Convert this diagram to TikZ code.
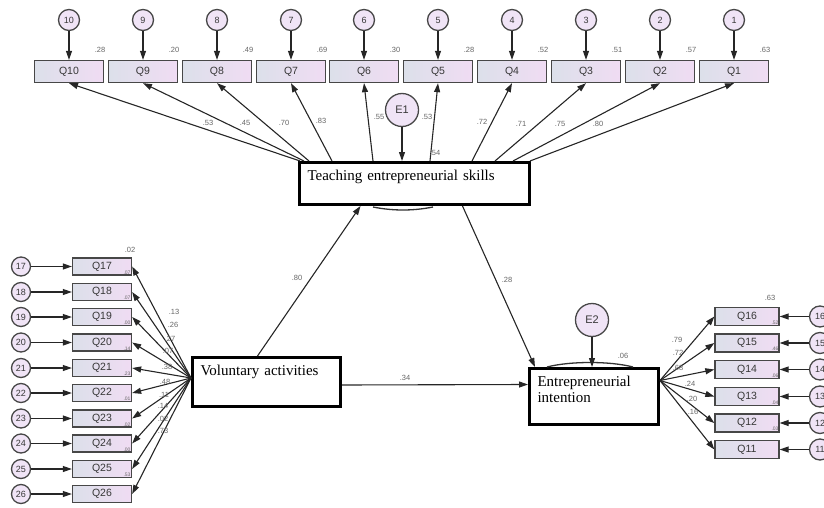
\documentclass[tikz,border=0pt]{standalone}
\usepackage{fontspec}
\setmainfont{Liberation Serif}
\setsansfont{Liberation Sans}
\usepackage{tikz}
\usetikzlibrary{arrows.meta}
\definecolor{qleft}{HTML}{DCE0EA}
\definecolor{qright}{HTML}{F0DCF3}
\definecolor{cfill}{HTML}{F0E4F6}
\tikzset{qbox/.style={draw=black!72, line width=1.3pt, left color=qleft, right color=qright,
  minimum width=69pt, minimum height=22pt, inner sep=0pt,
  font=\sffamily\fontsize{10.5}{11}\selectfont, text=black!78},
 sbox/.style={qbox, minimum width=59pt, minimum height=17pt},
 rbox/.style={qbox, minimum width=64pt, minimum height=18pt},
 errc/.style={circle, draw=black!72, line width=1.3pt, fill=cfill, minimum size=21pt,
  inner sep=0pt, font=\sffamily\fontsize{9}{9}\selectfont, text=black!78},
 serrc/.style={errc, minimum size=19pt},
 bigerr/.style={errc, minimum size=33pt, font=\sffamily\fontsize{11}{11}\selectfont},
 latent/.style={draw=black, line width=3pt, fill=white, anchor=north west, align=left,
  inner xsep=8pt, inner ysep=6pt, text height=12pt, font=\fontsize{15}{16}\selectfont},
 est/.style={font=\sffamily\fontsize{7.5}{7.5}\selectfont, text=black!60, inner sep=0pt},
 tinyest/.style={font=\sffamily\fontsize{5}{5}\selectfont, text=black!60, inner sep=0pt},
 link/.style={draw=black!85, line width=1.1pt, -{Triangle[length=9pt,width=6pt]}},
}
\begin{document}
\begin{tikzpicture}[x=1pt,y=-1pt]
        \useasboundingbox (0,0) rectangle (824,508);
        \node[latent, text width=214pt, text depth=18pt] (tes) at (298,161) {Teaching entrepreneurial skills};
        \node[latent, text width=132pt, text depth=25pt] (va) at (191,356) {Voluntary activities};
        \node[latent, text width=113pt, text depth=32pt] (ei) at (528,367) {Entrepreneurial\\intention};
        \draw[black!80, line width=1.3pt] (373,207) .. controls (393,211) and (413,211) .. (433,207);
        \draw[black!80, line width=1.3pt] (547,367) .. controls (570,361) and (610,361) .. (633,367);
        \node[qbox] (q10) at (69,71.5) {Q10};
        \node[qbox] (q9) at (143,71.5) {Q9};
        \node[qbox] (q8) at (217,71.5) {Q8};
        \node[qbox] (q7) at (291,71.5) {Q7};
        \node[qbox] (q6) at (364,71.5) {Q6};
        \node[qbox] (q5) at (438,71.5) {Q5};
        \node[qbox] (q4) at (512,71.5) {Q4};
        \node[qbox] (q3) at (586,71.5) {Q3};
        \node[qbox] (q2) at (660,71.5) {Q2};
        \node[qbox] (q1) at (734,71.5) {Q1};
        \node[errc] (c10) at (69,20) {10};
        \node[errc] (c9) at (143,20) {9};
        \node[errc] (c8) at (217,20) {8};
        \node[errc] (c7) at (291,20) {7};
        \node[errc] (c6) at (364,20) {6};
        \node[errc] (c5) at (438,20) {5};
        \node[errc] (c4) at (512,20) {4};
        \node[errc] (c3) at (586,20) {3};
        \node[errc] (c2) at (660,20) {2};
        \node[errc] (c1) at (734,20) {1};
        \node[est] (r10) at (100,50) {.28};
        \node[est] (r9) at (174,50) {.20};
        \node[est] (r8) at (248,50) {.49};
        \node[est] (r7) at (322,50) {.69};
        \node[est] (r6) at (395,50) {.30};
        \node[est] (r5) at (469,50) {.28};
        \node[est] (r4) at (543,50) {.52};
        \node[est] (r3) at (617,50) {.51};
        \node[est] (r2) at (691,50) {.57};
        \node[est] (r1) at (765,50) {.63};
        \node[bigerr] (E1) at (402,110) {E1};
        \node[bigerr] (E2) at (592,320) {E2};
        \node[sbox] (q17) at (102,266.5) {Q17};
        \node[sbox] (q18) at (102,292) {Q18};
        \node[sbox] (q19) at (102,317) {Q19};
        \node[sbox] (q20) at (102,342.5) {Q20};
        \node[sbox] (q21) at (102,368) {Q21};
        \node[sbox] (q22) at (102,393) {Q22};
        \node[sbox] (q23) at (102,418.5) {Q23};
        \node[sbox] (q24) at (102,443.5) {Q24};
        \node[sbox] (q25) at (102,469) {Q25};
        \node[sbox] (q26) at (102,494) {Q26};
        \node[serrc] (c17) at (21,266.5) {17};
        \node[serrc] (c18) at (21,292) {18};
        \node[serrc] (c19) at (21,317) {19};
        \node[serrc] (c20) at (21,342.5) {20};
        \node[serrc] (c21) at (21,368) {21};
        \node[serrc] (c22) at (21,393) {22};
        \node[serrc] (c23) at (21,418.5) {23};
        \node[serrc] (c24) at (21,443.5) {24};
        \node[serrc] (c25) at (21,469) {25};
        \node[serrc] (c26) at (21,494) {26};
        \node[est] (r17) at (130,250) {.02};
        \node[tinyest] (s18) at (127,272.5) {.07};
        \node[tinyest] (s19) at (127,298) {.07};
        \node[tinyest] (s20) at (127,323) {.00};
        \node[tinyest] (s21) at (127,348.5) {.14};
        \node[tinyest] (s22) at (127,374) {.23};
        \node[tinyest] (s23) at (127,399) {.01};
        \node[tinyest] (s24) at (127,424.5) {.02};
        \node[tinyest] (s25) at (127,449.5) {.00};
        \node[tinyest] (s26) at (127,475) {.53};
        \node[rbox] (q16) at (747,316.5) {Q16};
        \node[rbox] (q15) at (747,343) {Q15};
        \node[rbox] (q14) at (747,369.5) {Q14};
        \node[rbox] (q13) at (747,396.5) {Q13};
        \node[rbox] (q12) at (747,423) {Q12};
        \node[rbox] (q11) at (747,449.5) {Q11};
        \node[errc] (c16) at (820,316.5) {16};
        \node[errc] (c15) at (820,343) {15};
        \node[errc] (c14) at (820,369.5) {14};
        \node[errc] (c13) at (820,396.5) {13};
        \node[errc] (c12) at (820,423) {12};
        \node[errc] (c11) at (820,449.5) {11};
        \node[est] (r16) at (770,298) {.63};
        \node[tinyest] (s15) at (775,322.5) {.52};
        \node[tinyest] (s14) at (775,349) {.46};
        \node[tinyest] (s13) at (775,375.5) {.06};
        \node[tinyest] (s12) at (775,402.5) {.04};
        \node[tinyest] (s11) at (775,429) {.03};
        \coordinate (t10) at ([xshift=2pt]tes.north west);
        \coordinate (t9) at ([xshift=6pt]tes.north west);
        \coordinate (t8) at ([xshift=11pt]tes.north west);
        \coordinate (t7) at ([xshift=34pt]tes.north west);
        \coordinate (t6) at ([xshift=75pt]tes.north west);
        \coordinate (t5) at ([xshift=132pt]tes.north west);
        \coordinate (t4) at ([xshift=174pt]tes.north west);
        \coordinate (t3) at ([xshift=197pt]tes.north west);
        \coordinate (t2) at ([xshift=215pt]tes.north west);
        \coordinate (t1) at ([xshift=232pt]tes.north west);
        \coordinate (vf) at ([yshift=4pt]va.west);
        \coordinate (ef) at ([yshift=16pt]ei.east);
        \draw[link] (c10) -- (q10);
        \draw[link] (c9) -- (q9);
        \draw[link] (c8) -- (q8);
        \draw[link] (c7) -- (q7);
        \draw[link] (c6) -- (q6);
        \draw[link] (c5) -- (q5);
        \draw[link] (c4) -- (q4);
        \draw[link] (c3) -- (q3);
        \draw[link] (c2) -- (q2);
        \draw[link] (c1) -- (q1);
        \draw[link] (t10) -- (q10.south);
        \draw[link] (t9) -- (q9.south);
        \draw[link] (t8) -- (q8.south);
        \draw[link] (t7) -- (q7.south);
        \draw[link] (t6) -- (q6.south);
        \draw[link] (t5) -- (q5.south);
        \draw[link] (t4) -- (q4.south);
        \draw[link] (t3) -- (q3.south);
        \draw[link] (t2) -- (q2.south);
        \draw[link] (t1) -- (q1.south);
        \draw[link] (c17) -- (q17);
        \draw[link] (c18) -- (q18);
        \draw[link] (c19) -- (q19);
        \draw[link] (c20) -- (q20);
        \draw[link] (c21) -- (q21);
        \draw[link] (c22) -- (q22);
        \draw[link] (c23) -- (q23);
        \draw[link] (c24) -- (q24);
        \draw[link] (c25) -- (q25);
        \draw[link] (c26) -- (q26);
        \draw[link] (vf) -- (q17.east);
        \draw[link] (vf) -- (q18.east);
        \draw[link] (vf) -- (q19.east);
        \draw[link] (vf) -- (q20.east);
        \draw[link] (vf) -- (q21.east);
        \draw[link] (vf) -- (q22.east);
        \draw[link] (vf) -- (q23.east);
        \draw[link] (vf) -- (q24.east);
        \draw[link] (vf) -- (q25.east);
        \draw[link] (vf) -- (q26.east);
        \draw[link] (c16) -- (q16);
        \draw[link] (c15) -- (q15);
        \draw[link] (c14) -- (q14);
        \draw[link] (c13) -- (q13);
        \draw[link] (c12) -- (q12);
        \draw[link] (c11) -- (q11);
        \draw[link] (ef) -- (q16.west);
        \draw[link] (ef) -- (q15.west);
        \draw[link] (ef) -- (q14.west);
        \draw[link] (ef) -- (q13.west);
        \draw[link] (ef) -- (q12.west);
        \draw[link] (ef) -- (q11.west);
        \draw[link] (E1) -- (E1 |- tes.north);
        \draw[link] (E2) -- (E2 |- ei.north);
        \draw[link] ([xshift=-9pt]va.north) -- ([xshift=-54pt]tes.south);
        \draw[link] ([xshift=48pt]tes.south) -- ([xshift=-59pt]ei.north);
        \draw[link] ([yshift=-3pt]va.east) -- ([yshift=12pt]ei.west);
        \node[est] (l10) at (208,123) {.53};
        \node[est] (l9) at (245,123) {.45};
        \node[est] (l8) at (284,123) {.70};
        \node[est] (l7) at (321,121) {.83};
        \node[est] (l6) at (379,117) {.55};
        \node[est] (l5) at (427,117) {.53};
        \node[est] (l4) at (482,122) {.72};
        \node[est] (l3) at (521,124) {.71};
        \node[est] (l2) at (560,124) {.75};
        \node[est] (l1) at (598,124) {.80};
        \node[est] (l17) at (174,312) {.13};
        \node[est] (l18) at (173,325) {.26};
        \node[est] (l19) at (170,339) {.27};
        \node[est] (l20) at (168,351) {.07};
        \node[est] (l21) at (167,367) {.38};
        \node[est] (l22) at (165,382) {.48};
        \node[est] (l23) at (164,395) {.11};
        \node[est] (l24) at (163,406) {.14};
        \node[est] (l25) at (163,419) {.02};
        \node[est] (l26) at (163,431) {.73};
        \node[est] (l16) at (677,340) {.79};
        \node[est] (l15) at (678,353) {.72};
        \node[est] (l14) at (678,368) {.68};
        \node[est] (l13) at (690,384) {.24};
        \node[est] (l12) at (692,399) {.20};
        \node[est] (l11) at (693,412) {.16};
        \node[est] (rte) at (435,153) {.54};
        \node[est] (rei) at (623,356) {.06};
        \node[est] (lvt) at (297,278) {.80};
        \node[est] (lte) at (507,280) {.28};
        \node[est] (lve) at (405,378) {.34};
\end{tikzpicture}
\end{document}
